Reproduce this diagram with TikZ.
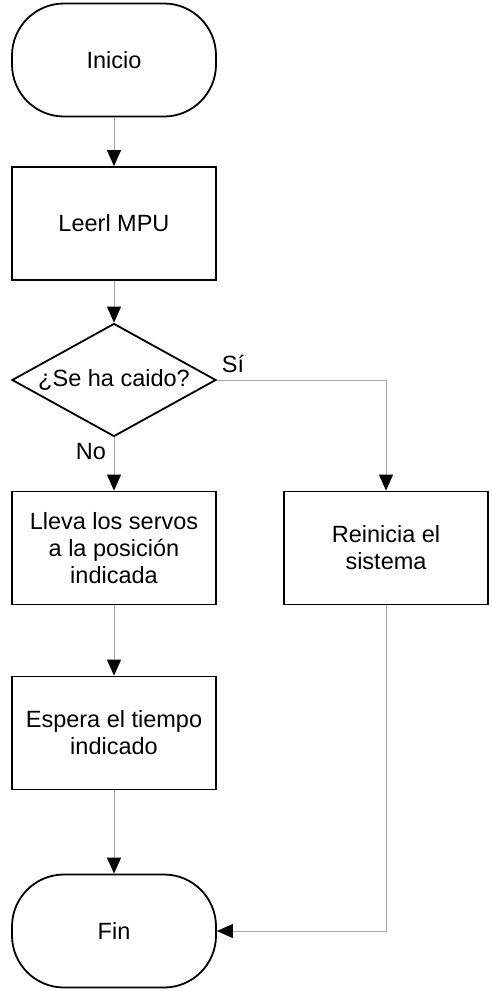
\documentclass[tikz,border=0pt]{standalone}
\usepackage{fontspec}
\setmainfont{Liberation Sans}
\usetikzlibrary{shapes.geometric,arrows.meta}
\definecolor{conn}{RGB}{165,165,165}
\tikzset{
  base/.style={draw=black,line width=1.8pt,minimum width=204pt,minimum height=113pt,inner sep=0pt,align=center,font=\fontsize{23.5}{27}\selectfont},
  term/.style={base,rounded corners=52pt},
  proc/.style={base},
  dec/.style={base,shape=diamond},
  conline/.style={draw=conn,line width=1pt,-{Triangle[length=16pt,width=14pt,fill=black,color=black]}},
  lbl/.style={font=\fontsize{23.5}{27}\selectfont,inner sep=0pt}
}
\begin{document}
\begin{tikzpicture}[x=1pt,y=-1pt]
\useasboundingbox (0,0) rectangle (491,991);
\node[term] (ini) at (114,60) {Inicio};
\node[proc] (leer) at (114,223.5) {Leerl MPU};
\node[dec] (d) at (114,380) {\makebox[0pt]{¿Se ha caido?}};
\node[proc] (lleva) at (114,548) {Lleva los servos\\a la posición\\indicada};
\node[proc] (rein) at (386,548) {Reinicia el\\sistema};
\node[proc] (esp) at (114,733) {Espera el tiempo\\indicado};
\node[term] (fin) at (114,931) {Fin};
\draw[conline] (ini) -- (leer);
\draw[conline] (leer) -- (d);
\draw[conline] (d.south) -- (lleva.north);
\draw[conline] (d.east) -| (rein.north);
\draw[conline] (lleva) -- (esp);
\draw[conline] (esp) -- (fin);
\draw[conline] (rein.south) |- (fin.east);
\node[lbl] (si) at (233,364) {Sí};
\node[lbl] (no) at (91,452) {No};
\end{tikzpicture}
\end{document}
